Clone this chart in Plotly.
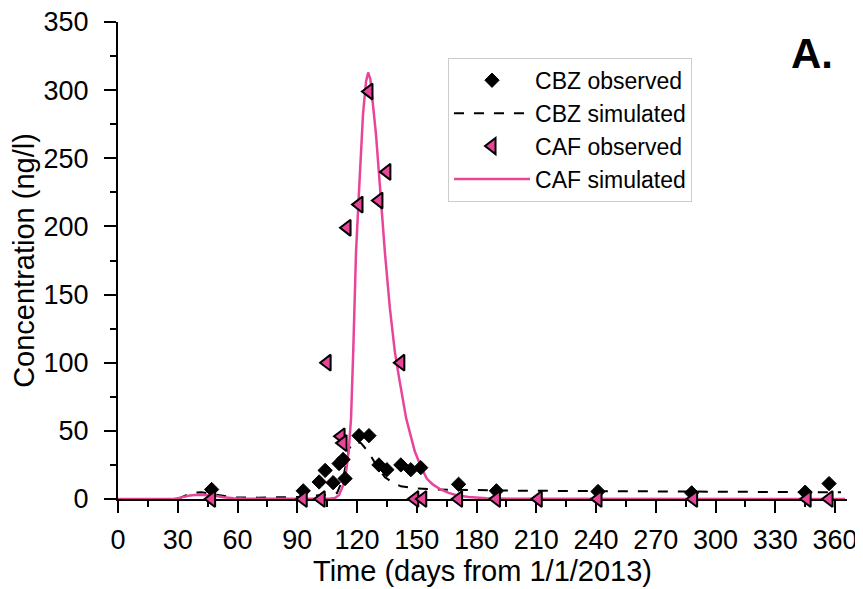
import plotly.graph_objects as go

# ---- data ----
cbz_obs_day = [47, 93, 101, 104, 108, 111, 113, 114, 121, 126, 131, 135, 142, 147, 152, 171, 190, 241, 288, 345, 357]
cbz_obs_val = [7, 6, 12.5, 21, 12, 26, 29, 15, 46.5, 46.5, 25, 21.5, 25, 21.5, 23, 10.8, 6, 5.5, 4.5, 5, 11.3]

cbz_sim_day = [30, 33, 37, 42, 47, 52, 58, 70, 90, 100, 105, 108, 110, 113, 116, 119, 122, 126, 130, 134, 138, 142, 150, 160, 200, 255, 320, 363]
cbz_sim_val = [0, 2, 4.5, 5, 4, 2.5, 1.2, 1, 1.5, 2.5, 3.2, 3.6, 4.5, 15, 37, 42, 41, 34, 24, 16, 12, 9.3, 7.8, 7.0, 6.1, 5.6, 5.1, 4.9]

caf_obs_day = [47, 93, 102, 105, 112, 113, 115, 121, 126, 131, 135, 142, 149, 153, 171, 190, 211, 241, 289, 346, 357]
caf_obs_val = [0, 0, 0, 100, 46, 41, 199, 216, 299, 219, 240, 100, 0, 0, 0, 0, 0, 0, 0, 0, 0]

caf_sim_day = [0, 28, 32, 36, 40, 44, 48, 53, 58, 65, 100, 106, 109, 111, 113, 114.5, 115.8, 117, 118.1, 119.5,
               120.8, 121.8, 123, 124.5, 125.6, 126.7, 128, 129.5, 130.6, 132.2, 134, 136.5, 139, 141, 144.7,
               149, 152, 155, 158, 162, 166, 170, 176, 185, 200, 365]
caf_sim_val = [0, 0, 1.2, 2.6, 3.2, 3.1, 2.5, 1.3, 0.5, 0.1, 0, 0.2, 0.8, 3, 10, 20, 35, 59, 108, 181,
               220, 247, 282, 306, 313, 308, 290, 268, 247, 215, 181, 140, 108, 90, 59,
               35, 24, 15, 10.7, 7, 4.5, 2.8, 1.5, 0.5, 0.1, 0]

x_ticks = list(range(0, 361, 30))
y_ticks = list(range(0, 351, 50))

PINK = "#E8449A"
FONT = "Arial, Liberation Sans, sans-serif"

fig = go.Figure()

fig.add_trace(go.Scatter(
    x=cbz_sim_day, y=cbz_sim_val, mode="lines", name="CBZ simulated",
    line=dict(color="black", width=2, dash="10px,10px"), legendrank=2, cliponaxis=False))
fig.add_trace(go.Scatter(
    x=caf_sim_day, y=caf_sim_val, mode="lines", name="CAF simulated",
    line=dict(color=PINK, width=2.5), legendrank=4, cliponaxis=False))
fig.add_trace(go.Scatter(
    x=cbz_obs_day, y=cbz_obs_val, mode="markers", name="CBZ observed",
    marker=dict(symbol="diamond", size=11, color="black", line=dict(color="black", width=1)),
    legendrank=1, cliponaxis=False))
fig.add_trace(go.Scatter(
    x=caf_obs_day, y=caf_obs_val, mode="markers", name="CAF observed",
    marker=dict(symbol="triangle-left", size=14, color=PINK, line=dict(color="black", width=2)),
    legendrank=3, cliponaxis=False))

fig.update_layout(
    width=855, height=581,
    margin=dict(l=110, r=16, t=14, b=90, autoexpand=False),
    paper_bgcolor="white", plot_bgcolor="white",
    font=dict(family=FONT, color="black", size=28),
    showlegend=True,
    legend=dict(
        x=0.4527, y=0.925, xanchor="left", yanchor="top",
        bgcolor="white", bordercolor="#cccccc", borderwidth=1,
        font=dict(size=23, family=FONT), itemwidth=76, tracegroupgap=0,
    ),
    annotations=[dict(
        text="<b>A.</b>", xref="paper", yref="paper", x=0.952, y=0.933,
        xanchor="center", yanchor="middle", showarrow=False,
        font=dict(size=42, family=FONT, color="black"))],
)

fig.update_xaxes(
    range=[0, 366], tickvals=x_ticks, ticktext=[str(v) for v in x_ticks],
    automargin=False, ticklabeloverflow="allow",
    showline=True, linecolor="black", linewidth=2, layer="below traces",
    ticks="outside", ticklen=12, tickwidth=2, tickcolor="black",
    minor=dict(dtick=15, tick0=0, ticks="outside", ticklen=6, tickwidth=2, tickcolor="black"),
    showgrid=False, zeroline=False,
    tickfont=dict(size=27, family=FONT), ticklabelstandoff=4,
    title=dict(text="Time (days from 1/1/2013)", font=dict(size=29, family=FONT), standoff=2),
)
fig.update_yaxes(
    range=[0, 350], tickvals=y_ticks, ticktext=[str(v) for v in y_ticks],
    automargin=False, ticklabeloverflow="allow",
    showline=True, linecolor="black", linewidth=2, layer="below traces",
    ticks="outside", ticklen=12, tickwidth=2, tickcolor="black",
    minor=dict(dtick=25, tick0=0, ticks="outside", ticklen=6, tickwidth=2, tickcolor="black"),
    showgrid=False, zeroline=False,
    tickfont=dict(size=27, family=FONT), ticklabelstandoff=10,
    title=dict(text="Concentration (ng/l)", font=dict(size=29, family=FONT), standoff=4),
)

fig.write_html("out.html")
